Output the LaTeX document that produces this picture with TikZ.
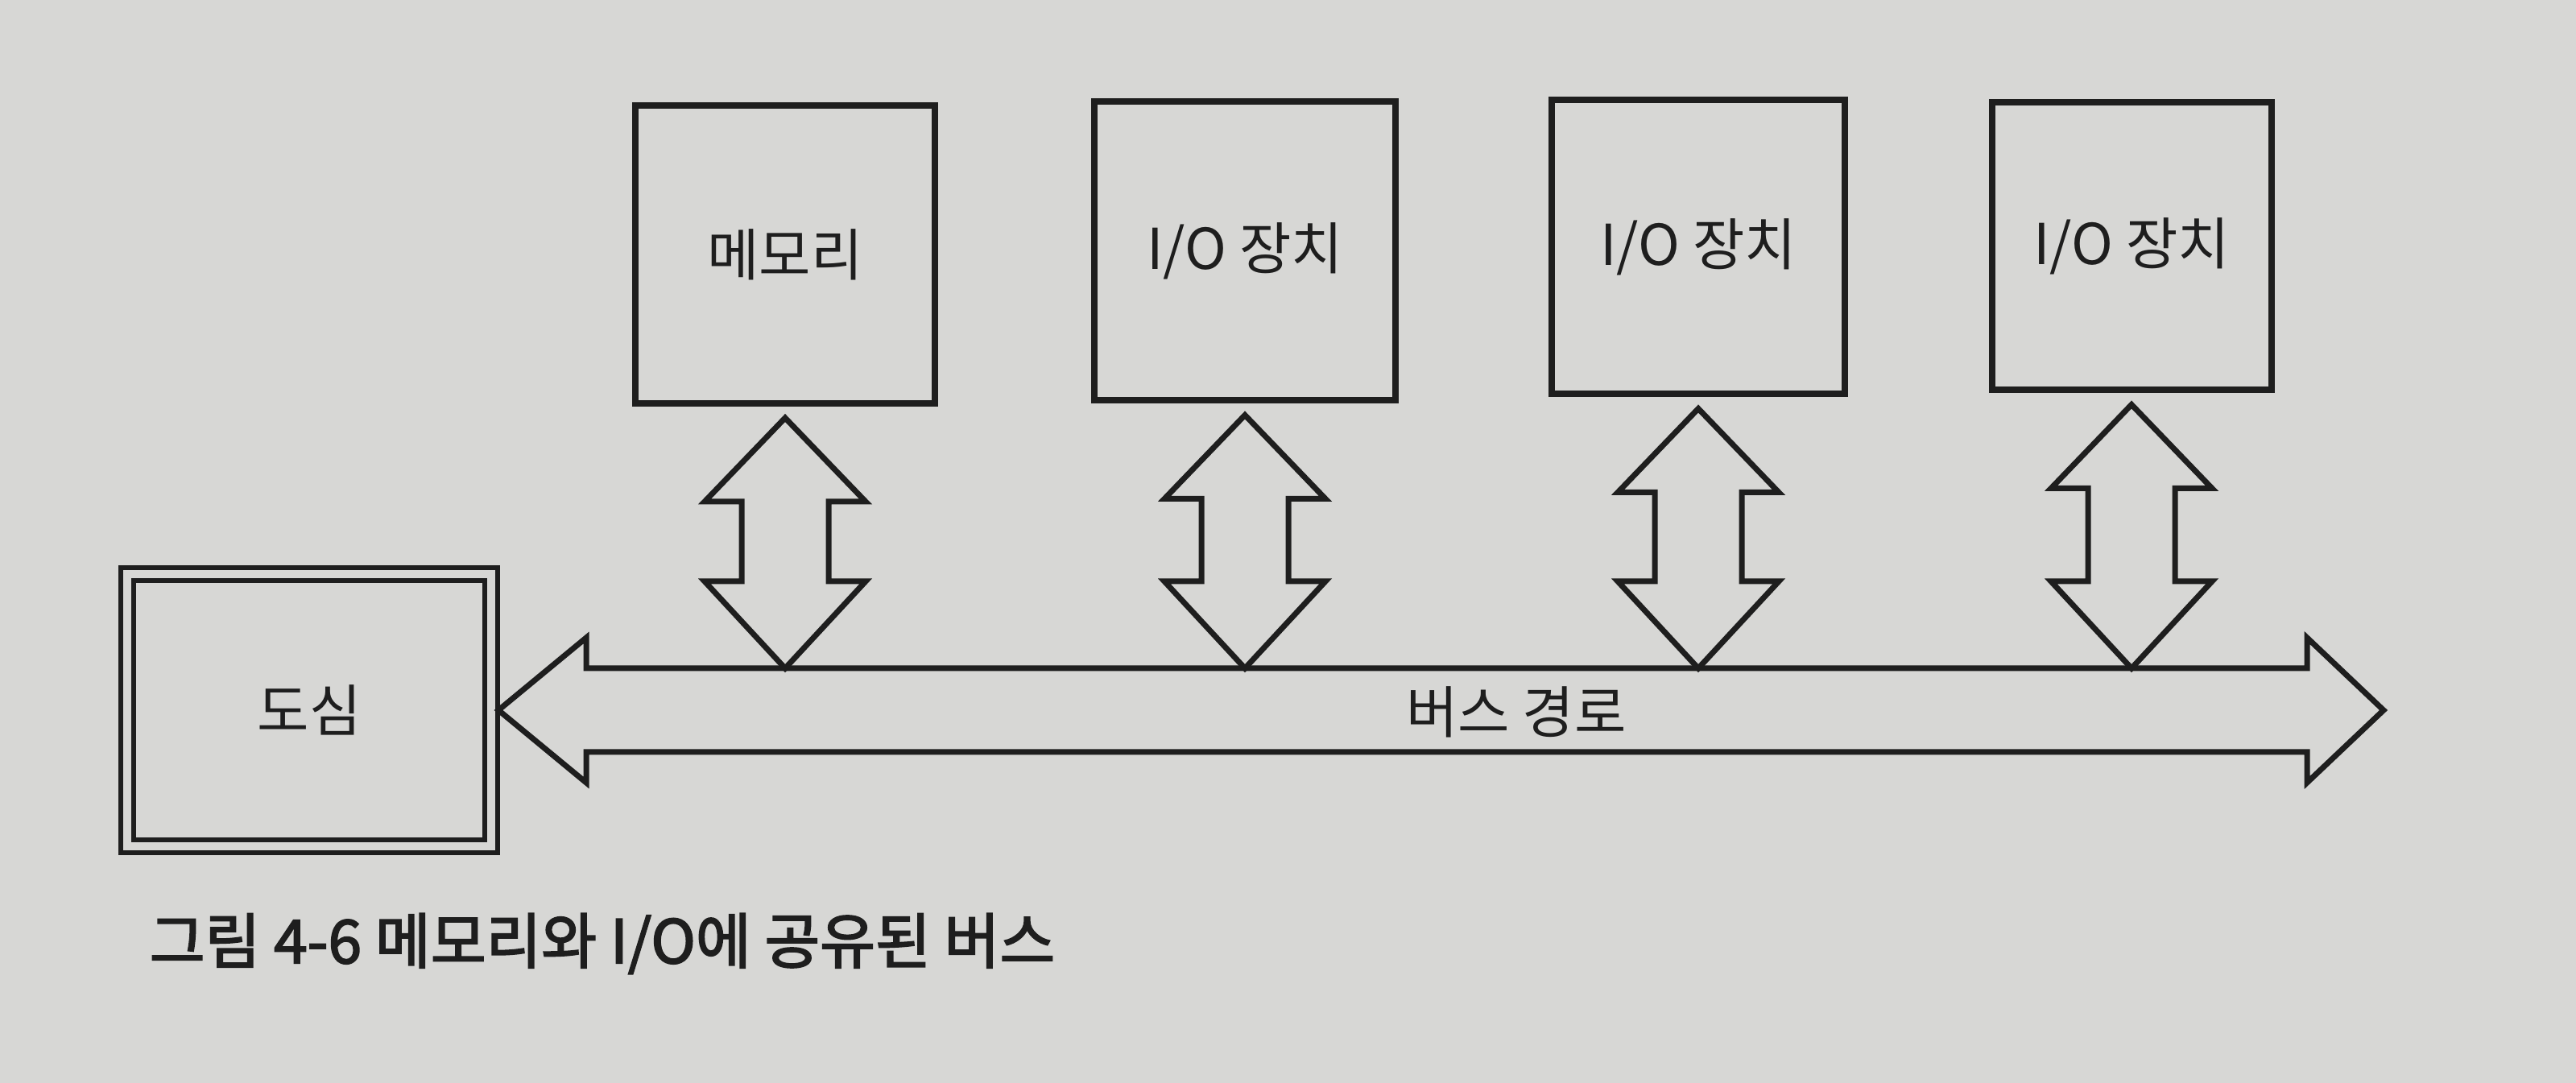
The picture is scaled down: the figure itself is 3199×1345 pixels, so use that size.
\documentclass[tikz,border=0pt]{standalone}
\usepackage{fontspec}
\setmainfont{Noto Sans CJK KR}
\newfontfamily\capfont{Noto Sans CJK KR}[FakeBold=2.5]
\usetikzlibrary{calc}
\definecolor{paper}{RGB}{215,215,213}
\definecolor{ink}{RGB}{30,30,30}
\newcommand\fatvarrow[2]{%
  \draw[fatline] let \p1=(#1), \p2=(#2) in
    (\x1,\y1) -- (\x1+25pt,\y1-26pt) -- (\x1+13.5pt,\y1-26pt) --
    (\x1+13.5pt,\y2+27pt) -- (\x1+25pt,\y2+27pt) -- (\x1,\y2) --
    (\x1-25pt,\y2+27pt) -- (\x1-13.5pt,\y2+27pt) --
    (\x1-13.5pt,\y1-26pt) -- (\x1-25pt,\y1-26pt) -- cycle;}
\begin{document}
\begin{tikzpicture}[x=0.25pt,y=-0.25pt,
  lblfont/.style={font=\fontsize{17.5}{20}\selectfont, text=ink},
  unitbox/.style={draw=ink, line width=2pt, rectangle, inner sep=0pt, outer sep=0pt, lblfont},
  corebox/.style={draw=ink, double=paper, line width=1.5pt, double distance=2.5pt,
    inner sep=0pt, outer sep=0pt, minimum width=113pt, minimum height=84.5pt, lblfont},
  fatline/.style={draw=ink, line width=1.75pt, line join=miter},
  captext/.style={font=\capfont\fontsize{18.7}{22}\selectfont, text=ink, inner sep=0pt}
]
\fill[paper] (0,0) rectangle (3199,1345);
\useasboundingbox (0,0) rectangle (3199,1345);

% units on the bus
\node[unitbox, minimum width=93pt,   minimum height=92.5pt]  (mem) at (975,316)  {메모리};
\node[unitbox, minimum width=93.5pt, minimum height=92.75pt] (io1) at (1546,312) {I/O 장치};
\node[unitbox, minimum width=91pt,   minimum height=91.25pt] (io2) at (2109,307) {I/O 장치};
\node[unitbox, minimum width=86.75pt,minimum height=89.25pt] (io3) at (2647,306) {I/O 장치};

% core
\node[corebox] (core) at (384,882) {도심};

% bus path
\coordinate (busL) at ($(core.east)+(9,0)$);
\coordinate (busR) at ($(busL)+(2341,0)$);
\coordinate (bustop) at ($(busL)+(0,-52)$);
\draw[fatline] (busL) -- ++(109,-90) -- ++(0,38) -- ($(busR)+(-95,-52)$) -- ++(0,-38)
  -- (busR) -- ++(-95,90) -- ++(0,-38) -- ($(busL)+(109,52)$) -- ++(0,38) -- cycle;
\node[lblfont] (buslbl) at (1883,884) {버스 경로};

% two-way arrows between units and bus
\foreach \u in {mem,io1,io2,io3}{
  \coordinate (\u-top) at ($(\u.south)+(0,18)$);
  \coordinate (\u-bot) at (\u-top |- bustop);
  \fatvarrow{\u-top}{\u-bot}
}

% caption
\node[captext, anchor=west] (cap) at (185,1172) {그림 4-6 메모리와 I/O에 공유된 버스};
\end{tikzpicture}
\end{document}
